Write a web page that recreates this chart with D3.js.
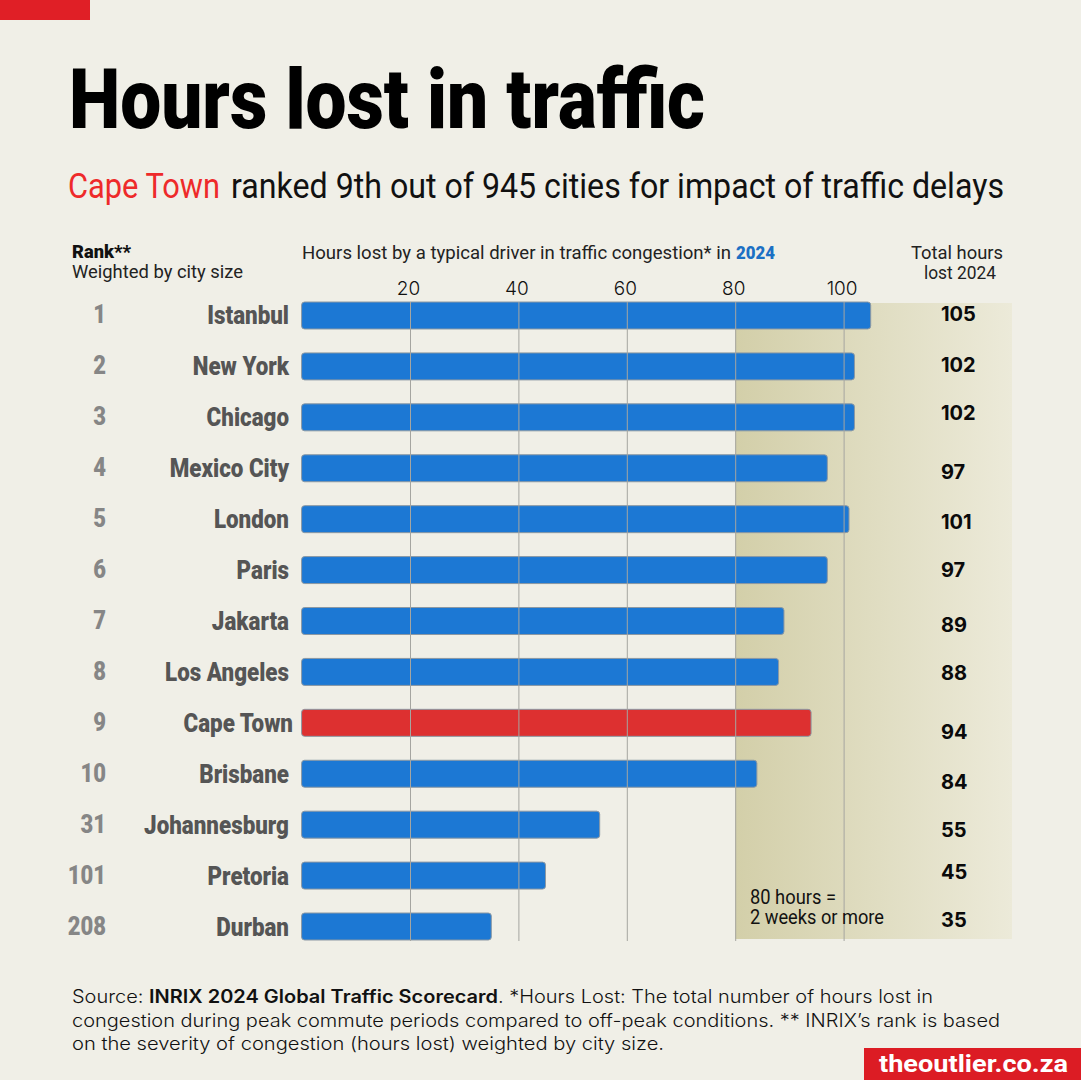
<!DOCTYPE html>
<html>
<head>
<meta charset="utf-8">
<script src="https://cdn.jsdelivr.net/npm/d3@7"></script>
<style>
  html, body { margin: 0; padding: 0; background: #f0efe7; }
  svg { display: block; }
  .narrow { font-family: "Roboto", sans-serif; }
  .inter { font-family: "Inter", sans-serif; }
</style>
</head>
<body>
<div id="chart"></div>
<script>
'use strict';

// Chart values
const cities = ["Istanbul", "New York", "Chicago", "Mexico City", "London", "Paris", "Jakarta",
    "Los Angeles", "Cape Town", "Brisbane", "Johannesburg", "Pretoria", "Durban"];
const ranks = [1, 2, 3, 4, 5, 6, 7, 8, 9, 10, 31, 101, 208];
const hoursLost = [105, 102, 102, 97, 101, 97, 89, 88, 94, 84, 55, 45, 35];
const tickValues = [20, 40, 60, 80, 100];
const highlightCity = "Cape Town";
const thresholdHours = 80;

// The value labels sit a little unevenly in the original
const valueLabelNudge = [0, 0, -3, 5, 4, 1, 5, 2, 10, 9, 6, -3, -6];

const width = 1081, height = 1080;
const plotLeft = 301.6, pxPerHour = 5.42;
const plotTop = 302, plotBottom = 940;
const shadeRight = 1012;

const svg = d3.select("#chart").append("svg")
    .attr("width", width)
    .attr("height", height);

const x = d3.scaleLinear()
    .domain([0, 100])
    .range([plotLeft, plotLeft + pxPerHour * 100]);

const y = d3.scaleBand()
    .domain(cities)
    .range([plotTop, plotBottom])
    .paddingInner(0.47);

// Adds a line of text. fit above 2 is a width in px, below 2 a squeeze ratio
const addText = (lines, cls, px, weight, fill, tx, ty, anchor, fit) => {
    const t = svg.append("text")
        .attr("class", cls)
        .attr("x", tx)
        .attr("y", ty)
        .attr("font-size", px)
        .attr("font-weight", weight)
        .attr("fill", fill)
        .attr("text-anchor", anchor || "start");
    [].concat(lines).forEach(l => {
        const part = typeof l === "string" ? { s: l } : l;
        t.append("tspan")
            .attr("font-weight", part.weight || null)
            .text(part.s);
    });
    if (fit) {
        const len = fit > 2 ? fit : t.node().getComputedTextLength() * fit;
        t.attr("textLength", len).attr("lengthAdjust", "spacingAndGlyphs");
    }
    return t;
};

// Header block
const drawHeader = () => {
    svg.append("rect").attr("x", 0).attr("y", 0).attr("width", 90).attr("height", 20).attr("fill", "#e01f26");
    addText("Hours lost in traffic", "narrow", 84, 900, "#000", 69, 128, "start", 636);
    addText("Cape Town", "narrow", 35, 400, "#ee2a2a", 68, 198, "start", 152);
    addText("ranked 9th out of 945 cities for impact of traffic delays", "narrow", 35, 400, "#111", 231, 198, "start", 773);

    addText("Rank**", "narrow", 19, 900, "#111", 72, 258, "start", 59);
    addText("Weighted by city size", "narrow", 19, 400, "#222", 72, 278, "start", 171);
    addText("Hours lost by a typical driver in traffic congestion* in", "narrow", 19, 400, "#222", 302, 259, "start", 429);
    addText("2024", "narrow", 19, 900, "#1c70c4", 736, 259, "start", 39);
    addText("Total hours", "narrow", 19, 400, "#222", 957, 259, "middle", 92);
    addText("lost 2024", "narrow", 19, 400, "#222", 960, 279, "middle", 72);
};

// Shaded band from the 80 hour mark across the totals column
const drawShade = () => {
    const grad = svg.append("defs").append("linearGradient").attr("id", "shade");
    grad.append("stop").attr("offset", "0%").attr("stop-color", "#d3cfa9");
    grad.append("stop").attr("offset", "100%").attr("stop-color", "#ecead9");
    svg.append("rect")
        .attr("x", x(thresholdHours))
        .attr("y", plotTop + 1)
        .attr("width", shadeRight - x(thresholdHours))
        .attr("height", plotBottom - plotTop - 2)
        .attr("fill", "url(#shade)");
};

const drawBars = () => {
    svg.selectAll("rect.bar")
        .data(cities)
        .enter()
        .append("rect")
        .attr("class", "bar")
        .attr("x", x(0))
        .attr("y", d => y(d))
        .attr("width", (d, i) => x(hoursLost[i]) - x(0))
        .attr("height", y.bandwidth())
        .attr("rx", 3)
        .attr("fill", d => d === highlightCity ? "#dd3030" : "#1c78d4")
        .attr("stroke", "#8b98a3")
        .attr("stroke-width", 1);
};

// Axis on top with its ticks run down through the bars as gridlines
const drawAxis = () => {
    const axis = svg.append("g")
        .attr("transform", "translate(-2," + plotTop + ")")
        .call(d3.axisTop(x).tickValues(tickValues).tickSize(0).tickPadding(7));
    axis.select(".domain").remove();
    axis.selectAll("text")
        .attr("font-family", "Inter, sans-serif")
        .attr("font-size", 19)
        .attr("font-weight", 300)
        .attr("fill", "#111");

    svg.selectAll("line.grid")
        .data(tickValues)
        .enter()
        .append("line")
        .attr("class", "grid")
        .attr("x1", d => x(d) + 0.5)
        .attr("x2", d => x(d) + 0.5)
        .attr("y1", plotTop)
        .attr("y2", plotBottom + 1)
        .attr("stroke", "#a5a5a0")
        .attr("stroke-width", 1);
};

const drawRowLabels = () => {
    cities.forEach((city, i) => {
        const mid = y(city) + y.bandwidth() / 2;
        addText(String(ranks[i]), "narrow", 25, 900, "#868686", 106, mid + 8, "end", 0.88);
        addText(city, "narrow", 26, 900, "#555", city === highlightCity ? 293 : 289, mid + 9, "end", 0.86);
        addText(String(hoursLost[i]), "inter", 20, 700, "#0a0a0a", 941, mid + 6 + valueLabelNudge[i], "start");
    });
};

const drawFooter = () => {
    addText("80 hours =", "narrow", 20, 400, "#111", 750, 904, "start", 86);
    addText("2 weeks or more", "narrow", 20, 400, "#111", 750, 924, "start", 134);

    addText(["Source: ", { s: "INRIX 2024 Global Traffic Scorecard", weight: 600 },
        ". *Hours Lost: The total number of hours lost in"], "inter", 18, 300, "#111", 72, 1003, "start", 861);
    addText("congestion during peak commute periods compared to off-peak conditions. ** INRIX\u2019s rank is based",
        "inter", 18, 300, "#111", 72, 1027, "start", 928);
    addText("on the severity of congestion (hours lost) weighted by city size.",
        "inter", 18, 300, "#111", 72, 1050, "start", 592);

    svg.append("rect").attr("x", 864).attr("y", 1048).attr("width", 217).attr("height", 32).attr("fill", "#dc1c24");
    addText("theoutlier.co.za", "narrow", 23, 700, "#fff", 879, 1072, "start", 189);
};

drawHeader();
drawShade();
drawBars();
drawAxis();
drawRowLabels();
drawFooter();
</script>
</body>
</html>
